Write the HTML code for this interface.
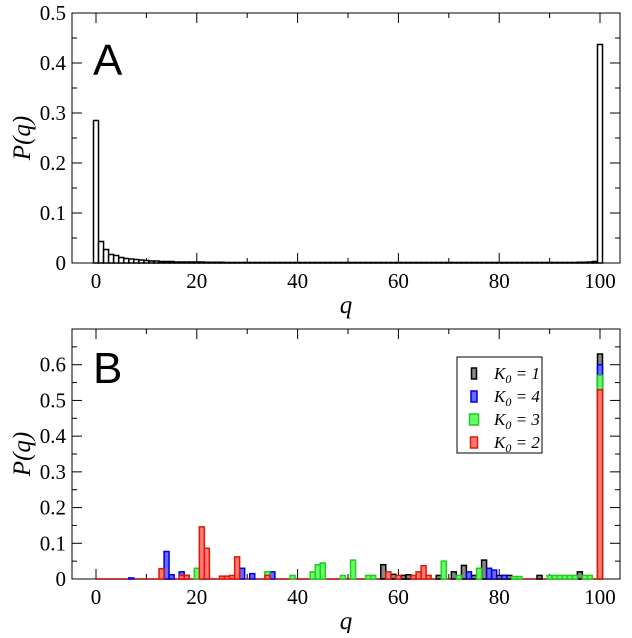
<!DOCTYPE html>
<html><head><meta charset="utf-8"><style>
body{margin:0;background:#fff}
svg text{font-family:"Liberation Serif",serif}
</style></head><body>
<svg id="c" width="632" height="633" xmlns="http://www.w3.org/2000/svg"></svg>
<script>
// Panel A data (q = index 0..100, P)
const aP = [0.285,0.043,0.027,0.017,0.015,0.011,0.009,0.008,0.007,0.006,
0.005,0.004,0.004,0.003,0.003,0.003,0.002,0.002,0.002,0.002,
0.002,0.002,0.0015,0.0015,0.0015,0.0015,0.001,0.001,0.001,0.001,
0.001,0.001,0.001,0.001,0.001,0.001,0.001,0.001,0.001,0.001,
0.001,0.001,0.001,0.001,0.001,0.001,0.001,0.001,0.001,0.001,
0.001,0.001,0.001,0.001,0.001,0.001,0.001,0.001,0.001,0.001,
0.001,0.001,0.001,0.001,0.001,0.001,0.001,0.001,0.001,0.001,
0.001,0.001,0.001,0.001,0.001,0.001,0.001,0.001,0.001,0.001,
0.001,0.001,0.001,0.001,0.001,0.001,0.001,0.001,0.001,0.001,
0.001,0.001,0.001,0.001,0.001,0.001,0.0015,0.0015,0.002,0.003,0.437];
const aQ = aP.map((_,i)=>i);
// Panel B series
const k1Q = [57,59,61,62,68,71,73,75,77,80,81,82,88,96,100];
const k1P = [0.04,0.013,0.01,0.012,0.01,0.02,0.038,0.01,0.053,0.01,0.01,0.01,0.01,0.02,0.63];
const k4Q = [7,14,15,17,18,22,29,31,35,74,78,79,81,100];
const k4P = [0.003,0.077,0.012,0.02,0.01,0.01,0.03,0.015,0.02,0.02,0.03,0.025,0.01,0.60];
const k3Q = [20,34,39,43,44,45,49,51,54,55,69,72,76,83,84,90,91,92,93,94,95,97,98,100];
const k3P = [0.03,0.02,0.01,0.02,0.04,0.045,0.01,0.053,0.01,0.01,0.05,0.01,0.03,0.007,0.007,0.01,0.01,0.01,0.01,0.01,0.01,0.01,0.01,0.57];
const k2Q = [13,17,18,21,22,25,26,27,28,34,58,60,63,64,65,66,100];
const k2P = [0.029,0.01,0.01,0.146,0.086,0.008,0.008,0.01,0.062,0.01,0.02,0.01,0.01,0.02,0.037,0.01,0.53];
const xTicks = [0,20,40,60,80,100];
const aYTicks = ["0","0.1","0.2","0.3","0.4","0.5"];
const bYTicks = ["0","0.1","0.2","0.3","0.4","0.5","0.6"];
const legendLabels = ["K0 = 1","K0 = 4","K0 = 3","K0 = 2"];

const svg = document.getElementById('c');
const NS = 'http://www.w3.org/2000/svg';
function mk(tag, at, parent){const e=document.createElementNS(NS,tag);for(const k in at)e.setAttribute(k,at[k]);(parent||svg).appendChild(e);return e;}

function panel(name, top, bottom, ymax, yTicks){
  const L=72, R=620;
  const g = mk('g',{});
  
  
  const xs = q => 96 + q*5.04;
  const ys = v => bottom - v/ymax*(bottom-top);
  const fr = mk('rect',{x:L,y:top,width:R-L,height:bottom-top,fill:'none',stroke:'#000','stroke-width':1},g);
  
  
  for(let q=0;q<=100;q+=10){
    const len = q%20===0?10:5;
    mk('line',{x1:xs(q),x2:xs(q),y1:bottom,y2:bottom-len,stroke:'#000'},g);
    mk('line',{x1:xs(q),x2:xs(q),y1:top,y2:top+len,stroke:'#000'},g);
  }
  xTicks.forEach(t=>{
    const tx = mk('text',{x:xs(t),y:bottom+25,'font-size':21,'text-anchor':'middle'},g);
    tx.textContent=t;
    
    
  });
  for(let i=0;i<=Math.round(ymax*20);i++){
    const v=i*0.05, len=i%2===0?10:5;
    mk('line',{x1:L,x2:L+len,y1:ys(v),y2:ys(v),stroke:'#000'},g);
    mk('line',{x1:R,x2:R-len,y1:ys(v),y2:ys(v),stroke:'#000'},g);
  }
  yTicks.forEach((t,i)=>{
    const tx = mk('text',{x:L-6,y:ys(i*0.1)+7,'font-size':21,'text-anchor':'end'},g);
    tx.textContent=t;
    
    
  });
  const yl = mk('text',{x:0,y:0,'font-size':25,'font-style':'italic','text-anchor':'middle',transform:`translate(30,${(top+bottom)/2}) rotate(-90)`},g);
  yl.textContent='P(q)';
  
  
  const xl = mk('text',{x:346,y:bottom+50,'font-size':25,'font-style':'italic','text-anchor':'middle'},g);
  xl.textContent='q';
  
  
  return {g,xs,ys,bottom};
}

function bars(p, Q, P, fill, stroke, sw, nm){
  Q.forEach((q,i)=>{
    const y=p.ys(P[i]);
    const r = mk('rect',{x:p.xs(q)-2.5,y:y,width:5,height:p.bottom-y,fill:fill,stroke:stroke,'stroke-width':sw},p.g);
    
    
  });
}

const pa = panel('panel-a', 13, 263, 0.5, aYTicks);
bars(pa, aQ, aP, '#fff', '#000', 1.5, 'bar-a');
const la = mk('text',{x:93,y:75,'font-size':44,style:'font-family:"Liberation Sans",sans-serif'},pa.g);
la.textContent='A';



const pb = panel('panel-b', 329, 579, 0.7, bYTicks);
mk('line',{x1:pb.xs(0),x2:pb.xs(100),y1:579,y2:579,stroke:'#b00000','stroke-width':1.5},pb.g);
const ser = [
  [k1Q,k1P,'#888','#000'],
  [k4Q,k4P,'#6a6aff','#0000dd'],
  [k3Q,k3P,'#66ff66','#22cc22'],
  [k2Q,k2P,'#ff7777','#dd1a00'],
];
ser.forEach((s,i)=>bars(pb,s[0],s[1],s[2],s[3],1.5,'bar-k0-'+['1','4','3','2'][i]));
const lb = mk('text',{x:93,y:383,'font-size':44,style:'font-family:"Liberation Sans",sans-serif'},pb.g);
lb.textContent='B';


const lg = mk('g',{},pb.g);


mk('rect',{x:457,y:357,width:85,height:96,fill:'#fff',stroke:'#000'},lg);
ser.forEach((s,i)=>{
  const y=368+i*23;
  const w = [5,6,9,7][i];
  const sw = mk('rect',{x:474-w/2,y:y,width:w,height:11,fill:s[2],stroke:s[3],'stroke-width':1.5},lg);
  
  
  const t = mk('text',{x:494,y:y+11,'font-size':17,'font-style':'italic'},lg);
  const parts = legendLabels[i].split(' = ');
  t.innerHTML = 'K<tspan font-size="12" dy="4">0</tspan><tspan dy="-4"> = '+parts[1]+'</tspan>';
  
  
});
</script>
</body></html>
